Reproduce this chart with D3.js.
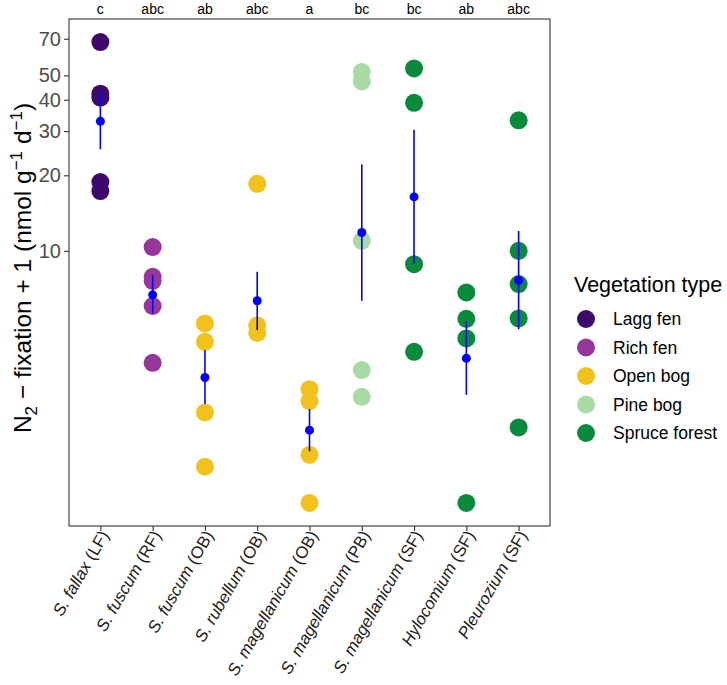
<!DOCTYPE html>
<html>
<head>
<meta charset="utf-8">
<script src="https://cdn.jsdelivr.net/npm/d3@7"></script>
<style>
body{margin:0;background:#fff;}
text{font-family:"Liberation Sans",Arial,Helvetica,sans-serif;}
</style>
</head>
<body>
<svg id="chart" width="727" height="685"></svg>
<script>
// ---- data ----
const categories = ["S. fallax (LF)","S. fuscum (RF)","S. fuscum (OB)","S. rubellum (OB)","S. magellanicum (OB)","S. magellanicum (PB)","S. magellanicum (SF)","Hylocomium (SF)","Pleurozium (SF)"];
const italicParts = ["S. fallax","S. fuscum","S. fuscum","S. rubellum","S. magellanicum","S. magellanicum","S. magellanicum","Hylocomium","Pleurozium"];
const plainParts = [" (LF)"," (RF)"," (OB)"," (OB)"," (OB)"," (PB)"," (SF)"," (SF)"," (SF)"];
const vegOfCategory = ["Lagg fen","Rich fen","Open bog","Open bog","Open bog","Pine bog","Spruce forest","Spruce forest","Spruce forest"];
const groupLetters = ["c","abc","ab","abc","a","bc","bc","ab","abc"];
const pointValues = [
  [67.9, 42.3, 40.8, 18.8, 17.3],
  [10.35, 7.88, 7.6, 6.03, 3.58],
  [5.14, 4.34, 2.27, 1.38],
  [18.5, 5.04, 4.71],
  [2.81, 2.52, 1.54, 0.99],
  [51.6, 47.3, 10.96, 3.35, 2.62],
  [53.3, 38.9, 8.85, 3.96],
  [6.83, 5.36, 4.48, 0.99],
  [33.1, 10.0, 7.37, 5.38, 1.98]
];
const meanValues = [32.8, 6.68, 3.13, 6.33, 1.93, 11.83, 16.4, 3.73, 7.64];
const lowValues  = [25.4, 5.63, 2.455, 4.84, 1.59, 6.32, 8.9, 2.67, 4.87];
const highValues = [42.5, 8.0, 4.03, 8.25, 2.345, 22.1, 30.4, 5.25, 12.0];
const vegTypes = ["Lagg fen","Rich fen","Open bog","Pine bog","Spruce forest"];
const vegColors = ["#3d0a6b","#98379b","#f2c11b","#a8dba4","#0a8a3c"];
const yTicks = [10,20,30,40,50,70];

// ---- layout ----
const svg = d3.select("#chart");
const L = 69, R = 550, T = 19, B = 526;

const x = d3.scalePoint().domain(categories).range([L, R]).padding(0.6);
const allVals = pointValues.flat();
const lmin = Math.log10(d3.min(allVals)), lmax = Math.log10(d3.max(allVals));
const ex = (lmax - lmin) * 0.05;
const y = d3.scaleLog().domain([Math.pow(10, lmin - ex), Math.pow(10, lmax + ex)]).range([B, T]);
const color = d3.scaleOrdinal().domain(vegTypes).range(vegColors);

// points
const pts = [];
categories.forEach((c, i) => pointValues[i].forEach(v => pts.push({c, v, veg: vegOfCategory[i]})));
svg.append("g").selectAll("circle").data(pts).join("circle")
  .attr("cx", d => x(d.c)).attr("cy", d => y(d.v)).attr("r", 9)
  .attr("fill", d => color(d.veg));

// error bars and means
const stats = categories.map((c, i) => ({c, m: meanValues[i], lo: lowValues[i], hi: highValues[i]}));
svg.append("g").selectAll("line").data(stats).join("line")
  .attr("x1", d => x(d.c)).attr("x2", d => x(d.c))
  .attr("y1", d => y(d.lo)).attr("y2", d => y(d.hi))
  .attr("stroke", "#0000ff").attr("stroke-width", 1.6);
svg.append("g").selectAll("circle").data(stats).join("circle")
  .attr("cx", d => x(d.c)).attr("cy", d => y(d.m)).attr("r", 4.5)
  .attr("fill", "#0000ff");

// panel border
svg.append("rect").attr("x", L).attr("y", T).attr("width", R - L).attr("height", B - T)
  .attr("fill", "none").attr("stroke", "#333").attr("stroke-width", 1.1);

// y axis
const yAxis = svg.append("g").attr("transform", `translate(${L},0)`)
  .call(d3.axisLeft(y).tickValues(yTicks).tickFormat(d3.format("d")).tickSize(5).tickPadding(3));
yAxis.select(".domain").remove();
yAxis.selectAll(".tick line").attr("stroke", "#333").attr("stroke-width", 1.1);
yAxis.selectAll(".tick text").attr("fill", "#4d4d4d").style("font-size", "20px")
  .style("font-family", "'Liberation Sans',Arial,sans-serif");

// x axis
const xAxis = svg.append("g").attr("transform", `translate(0,${B})`)
  .call(d3.axisBottom(x).tickSize(5).tickFormat(""));
xAxis.select(".domain").remove();
xAxis.selectAll(".tick line").attr("stroke", "#333").attr("stroke-width", 1.1);

// x labels
const xl = svg.append("g").selectAll("text").data(categories).join("text")
  .attr("transform", d => `translate(${x(d) + 4},${B + 6}) rotate(-60)`)
  .attr("text-anchor", "end").attr("dy", "0.35em")
  .style("font-size", "16.8px").attr("fill", "#1a1a1a");
xl.append("tspan").style("font-style", "italic").text((d, i) => italicParts[i]);
xl.append("tspan").text((d, i) => plainParts[i]);

// group letters
svg.append("g").selectAll("text").data(categories).join("text")
  .attr("x", d => x(d)).attr("y", 14).attr("text-anchor", "middle")
  .style("font-size", "14px").attr("fill", "#000").text((d, i) => groupLetters[i]);

// y title
const yt = svg.append("text").attr("transform", `translate(31,268) rotate(-90)`)
  .attr("text-anchor", "middle").style("font-size", "24.5px").attr("fill", "#000");
yt.append("tspan").text("N");
yt.append("tspan").attr("dy", 6).style("font-size", "17px").text("2");
yt.append("tspan").attr("dy", -6).text(" \u2212 fixation + 1 (nmol g");
yt.append("tspan").attr("dy", -9).style("font-size", "17px").text("\u22121");
yt.append("tspan").attr("dy", 9).text(" d");
yt.append("tspan").attr("dy", -9).style("font-size", "17px").text("\u22121");
yt.append("tspan").attr("dy", 9).text(")");

// legend
const lg = svg.append("g");
lg.append("text").attr("x", 574).attr("y", 292).style("font-size", "21.5px").attr("fill", "#000").text("Vegetation type");
const items = lg.selectAll("g.item").data(vegTypes).join("g").attr("class", "item")
  .attr("transform", (d, i) => `translate(586,${319 + i * 28.5})`);
items.append("circle").attr("r", 9).attr("fill", d => color(d));
items.append("text").attr("x", 27).attr("dy", "0.35em").style("font-size", "17.5px").attr("fill", "#000").text(d => d);
</script>
</body>
</html>
